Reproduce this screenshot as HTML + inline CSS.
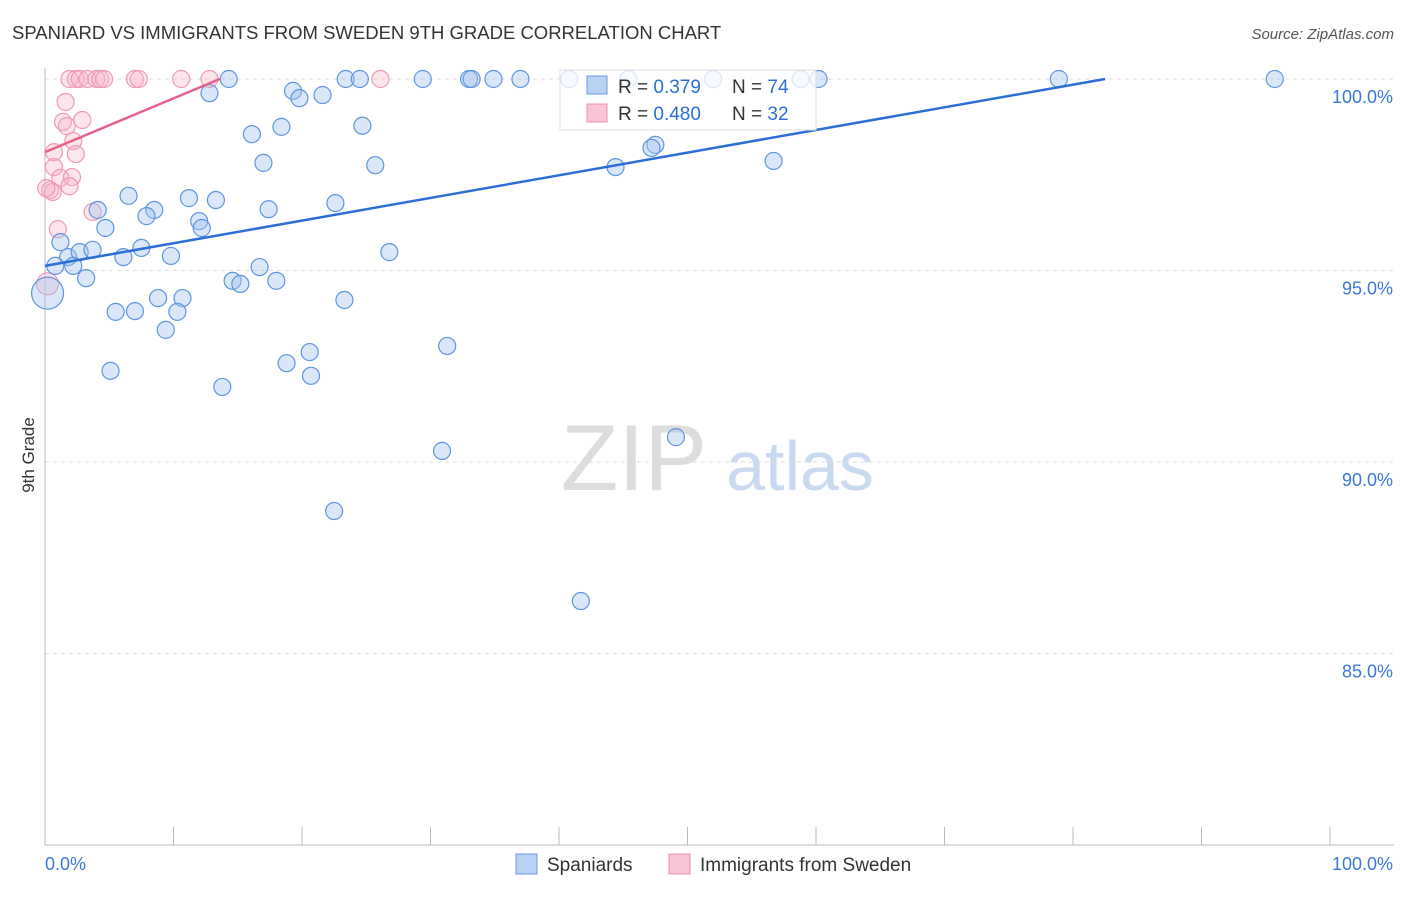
<!DOCTYPE html>
<html><head><meta charset="utf-8"><style>
body{margin:0;background:#fff;font-family:"Liberation Sans",sans-serif}
svg text{font-family:"Liberation Sans",sans-serif}
</style></head><body>
<svg id="chart" width="1406" height="892">
<text x="12" y="39" font-size="18.5" fill="#333">SPANIARD VS IMMIGRANTS FROM SWEDEN 9TH GRADE CORRELATION CHART</text>
<text x="1394" y="39" font-size="15" fill="#555" font-style="italic" text-anchor="end">Source: ZipAtlas.com</text>
<text x="634" y="490" font-size="94" fill="#ddd" font-family="Liberation Serif" text-anchor="middle">ZIP</text>
<text x="800" y="490" font-size="70" fill="#c9daf0" text-anchor="middle">atlas</text>
<text x="34" y="455" font-size="17" fill="#333" text-anchor="middle" transform="rotate(-90 34 455)">9th Grade</text>
<g id="grid"></g><g id="axes"></g><g id="pts"></g><g id="lines"></g>
<g>
<rect x="560" y="70" width="256" height="60" fill="rgba(255,255,255,0.75)" stroke="#ddd"/>
<rect x="587" y="76" width="20" height="18" fill="#b9d1f3" stroke="#6a9ae0"/>
<rect x="587" y="104" width="20" height="18" fill="#f8c5d4" stroke="#ec8fac"/>
<text x="618" y="93" font-size="19" fill="#333">R = <tspan fill="#2b6fd6">0.379</tspan></text>
<text x="732" y="93" font-size="19" fill="#333">N = <tspan fill="#2b6fd6">74</tspan></text>
<text x="618" y="120" font-size="19" fill="#333">R = <tspan fill="#2b6fd6">0.480</tspan></text>
<text x="732" y="120" font-size="19" fill="#333">N = <tspan fill="#2b6fd6">32</tspan></text>
</g>
<g>
<rect x="516" y="854" width="21" height="20" fill="#b9d1f3" stroke="#6a9ae0"/>
<text x="547" y="871" font-size="19" fill="#333">Spaniards</text>
<rect x="669" y="854" width="21" height="20" fill="#f8c5d4" stroke="#ec8fac"/>
<text x="700" y="871" font-size="19" fill="#333">Immigrants from Sweden</text>
</g>
</svg>
<script>
const yTicks=[100,95,90,85];
const yTickLabels=["100.0%","95.0%","90.0%","85.0%"];
const xTickValues=[0,10,20,30,40,50,60,70,80,90,100];
const blueX=[14.3,12.8,19.3,19.8,21.6,23.4,24.5,29.4,33.0,33.2,34.9,37.0,40.8,45.4,52.0,58.8,60.2,78.9,95.7,16.1,18.4,24.7,17.0,25.7,47.5,47.2,44.4,56.7,6.5,4.1,8.5,7.9,11.2,13.3,17.4,22.6,12.0,12.2,4.7,1.2,1.8,2.7,3.7,6.1,7.5,9.8,0.8,2.2,3.2,16.7,26.8,14.6,15.2,18.0,0.2,5.5,7.0,8.8,10.7,10.3,9.4,23.3,5.1,13.8,18.8,20.6,20.7,31.3,49.1,30.9,22.5,41.7];
const blueY=[100,99.63,99.69,99.5,99.58,100,100,100,100,100,100,100,100,100,100,100,100,100,100,98.56,98.75,98.78,97.81,97.75,98.28,98.2,97.7,97.86,96.95,96.58,96.58,96.42,96.89,96.84,96.6,96.76,96.29,96.11,96.11,95.74,95.35,95.48,95.54,95.35,95.59,95.38,95.12,95.12,94.8,95.09,95.48,94.73,94.65,94.73,94.41,93.92,93.94,94.28,94.28,93.92,93.45,94.23,92.38,91.96,92.58,92.87,92.25,93.03,90.65,90.29,88.72,86.37];
const pinkX=[1.9,2.4,2.7,3.3,4.0,4.3,4.6,7.0,7.3,10.6,12.8,26.1,1.6,1.4,1.7,2.9,2.2,0.7,2.4,0.7,1.2,2.1,1.9,0.4,0.6,0.1,3.7,1.0,0.2];
const pinkY=[100,100,100,100,100,100,100,100,100,100,100,100,99.4,98.88,98.77,98.93,98.38,98.09,98.04,97.7,97.42,97.44,97.2,97.1,97.05,97.15,96.53,96.08,94.65];
const blueTrend=[95.12,100.0,82.5];
const pinkTrend=[98.09,100.0,13.6];
const NS="http://www.w3.org/2000/svg";
const X=v=>45+v*12.85, Y=v=>79+(100-v)*38.3;
function mk(t,a,p){const e=document.createElementNS(NS,t);for(const k in a)e.setAttribute(k,a[k]);const par=document.getElementById(p);par.appendChild(e);return e;}
yTicks.forEach((t,i)=>{
 const l=mk('line',{x1:45,x2:1394,y1:Y(t),y2:Y(t),stroke:'#ddd','stroke-dasharray':'4,4'},'grid');
 
 
 const tx=mk('text',{x:1393,y:Y(t)+24,'font-size':18,fill:'#3b78d8','text-anchor':'end'},'grid');tx.textContent=yTickLabels[i];
 
 
});
const ax=mk('line',{x1:45,x2:45,y1:68,y2:845,stroke:'#bbb'},'axes');


const bx=mk('line',{x1:45,x2:1394,y1:845,y2:845,stroke:'#bbb'},'axes');


xTickValues.forEach(v=>{const t=mk('line',{x1:X(v),x2:X(v),y1:827,y2:845,stroke:'#bbb'},'axes');
 
 });
let t0=mk('text',{x:45,y:870,'font-size':18,fill:'#3b78d8'},'axes');t0.textContent='0.0%';


let t1=mk('text',{x:1393,y:870,'font-size':18,fill:'#3b78d8','text-anchor':'end'},'axes');t1.textContent='100.0%';


pinkX.forEach((x,i)=>{const c=mk('circle',{cx:X(x),cy:Y(pinkY[i]),r:i==pinkX.length-1?11:8.5,fill:'rgba(248,180,200,0.35)',stroke:'#ee9ab5','stroke-width':1.2},'pts');
 
 });
blueX.forEach((x,i)=>{const c=mk('circle',{cx:X(x),cy:Y(blueY[i]),r:i==54?16:8.5,fill:'rgba(160,195,240,0.4)',stroke:'#5f95de','stroke-width':1.2},'pts');
 
 });
const bl=mk('line',{x1:X(0),y1:Y(blueTrend[0]),x2:X(blueTrend[2]),y2:Y(blueTrend[1]),stroke:'#2b6fd6','stroke-width':2.5},'lines');


const pl=mk('line',{x1:X(0),y1:Y(pinkTrend[0]),x2:X(pinkTrend[2]),y2:Y(pinkTrend[1]),stroke:'#e8608a','stroke-width':2.5},'lines');


</script>
</body></html>
